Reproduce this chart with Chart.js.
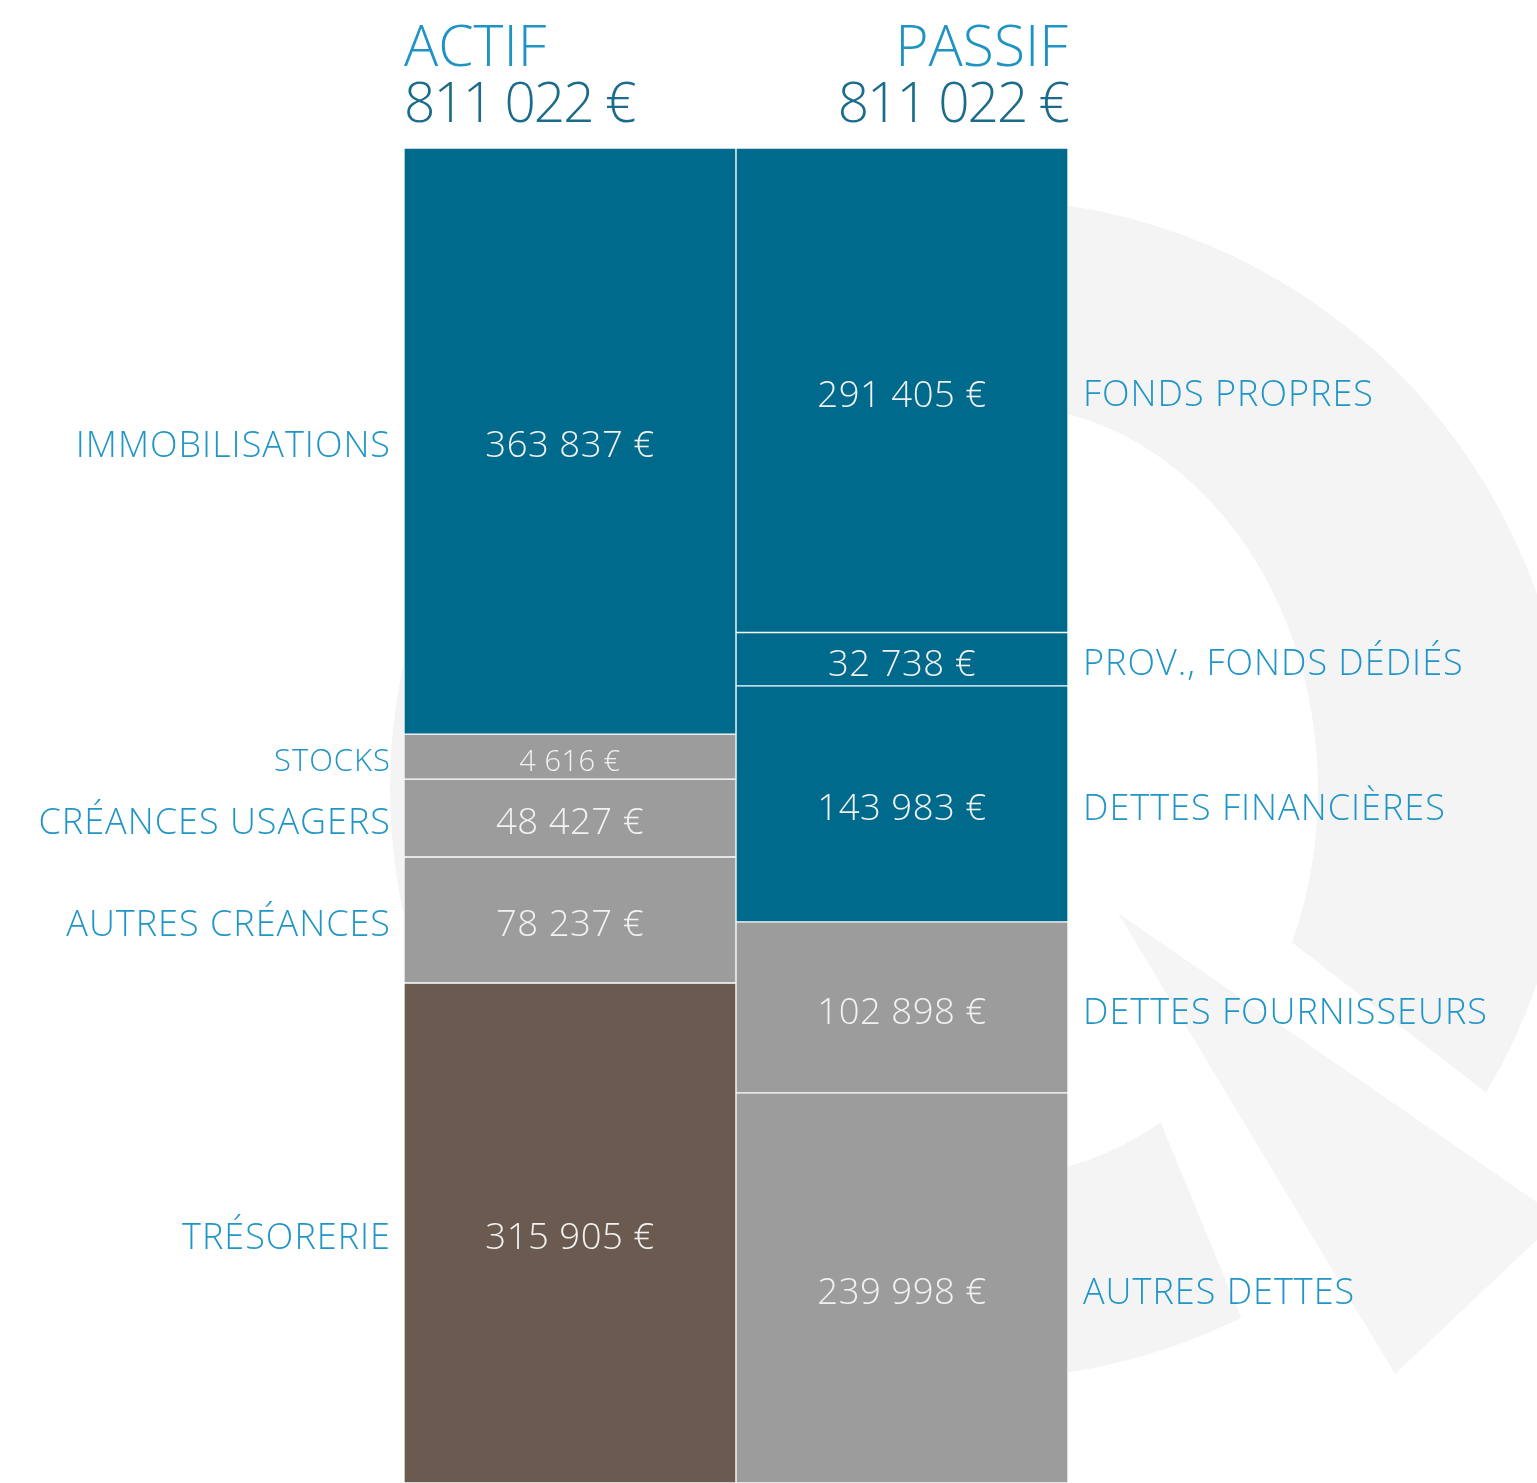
<!DOCTYPE html>
<html lang="fr">
<head>
<meta charset="utf-8">
<title>Bilan actif / passif</title>
<script src="https://cdn.jsdelivr.net/npm/chart.js@4.4.1/dist/chart.umd.min.js"></script>
<style>
  html, body { margin: 0; padding: 0; background: #fff; }
  #bilan { display: block; }
</style>
</head>
<body>
<canvas id="bilan" width="1537" height="1483"></canvas>
<script>
// colonnes
const colonnes = ["ACTIF", "PASSIF"];

// postes de l'actif (de haut en bas)
const actifPostes = ["IMMOBILISATIONS", "STOCKS", "CRÉANCES USAGERS", "AUTRES CRÉANCES", "TRÉSORERIE"];
const actifMontants = [363837, 4616, 48427, 78237, 315905];
// part de la colonne occupée par chaque bloc (%)
const actifParts = [43.9, 3.37, 5.84, 9.44, 37.45];
const actifCouleurs = ["#006a8c", "#9c9c9c", "#9c9c9c", "#9c9c9c", "#6a5a4f"];

// postes du passif (de haut en bas)
const passifPostes = ["FONDS PROPRES", "PROV., FONDS DÉDIÉS", "DETTES FINANCIÈRES", "DETTES FOURNISSEURS", "AUTRES DETTES"];
const passifMontants = [291405, 32738, 143983, 102898, 239998];
const passifParts = [36.29, 4.0, 17.68, 12.81, 29.22];
const passifCouleurs = ["#006a8c", "#006a8c", "#006a8c", "#9c9c9c", "#9c9c9c"];

const FONT = "'Open Sans', 'DejaVu Sans', sans-serif";
const bleuTexte = "#2196c6";

const euros = (n) => n.toString().replace(/\B(?=(\d{3})+(?!\d))/g, " ") + " €";
const total = (arr) => arr.reduce((a, b) => a + b, 0);

const datasets = actifPostes.map((p, i) => ({
  label: p + " / " + passifPostes[i],
  data: [actifParts[i], passifParts[i]],
  backgroundColor: [actifCouleurs[i], passifCouleurs[i]],
  borderColor: "#ffffff",
  borderWidth: 1,
  borderSkipped: false,
  barPercentage: 1,
  categoryPercentage: 1,
}));

// logo gris en fond
const fondLogo = {
  id: "fondLogo",
  beforeDraw(chart) {
    const ctx = chart.ctx;
    ctx.save();
    ctx.fillStyle = "#f4f4f4";
    ctx.beginPath();
    ctx.arc(980, 789, 590, 0, Math.PI * 2);
    ctx.ellipse(1000, 790, 318, 385, 0, 0, Math.PI * 2);
    ctx.fill("evenodd");
    // ouverture en bas à droite
    ctx.fillStyle = "#ffffff";
    ctx.beginPath();
    ctx.moveTo(1139, 824);
    ctx.lineTo(1657, 1225);
    ctx.lineTo(1700, 1600);
    ctx.lineTo(1345, 1569);
    ctx.lineTo(1120, 1024);
    ctx.closePath();
    ctx.fill();
    // queue
    ctx.fillStyle = "#f5f5f5";
    ctx.beginPath();
    ctx.moveTo(1118, 913);
    ctx.lineTo(1560, 1218);
    ctx.lineTo(1395, 1374);
    ctx.closePath();
    ctx.fill();
    ctx.restore();
  },
};

// titres, montants et libellés
const libelles = {
  id: "libelles",
  afterDatasetsDraw(chart) {
    const ctx = chart.ctx;
    const area = chart.chartArea;
    ctx.save();

    // titres des colonnes
    ctx.textBaseline = "alphabetic";
    ctx.font = "300 57px " + FONT;
    ctx.fillStyle = "#1f94c4";
    ctx.textAlign = "left";
    ctx.fillText(colonnes[0], area.left, 66);
    ctx.textAlign = "right";
    ctx.fillText(colonnes[1], area.right, 66);
    ctx.fillStyle = "#1b6c8a";
    ctx.font = "300 55px " + FONT;
    ctx.letterSpacing = "-2px";
    ctx.textAlign = "left";
    ctx.fillText(euros(total(actifMontants)), area.left, 122);
    ctx.textAlign = "right";
    ctx.fillText(euros(total(passifMontants)), area.right, 122);

    ctx.textBaseline = "middle";
    chart.data.datasets.forEach((ds, i) => {
      const meta = chart.getDatasetMeta(i);
      meta.data.forEach((bar, j) => {
        const { x, y, base, width } = bar.getProps(["x", "y", "base", "width"], true);
        const cy = (y + base) / 2 + 6;
        const h = Math.abs(base - y);
        const petit = h < 48;
        const montant = j === 0 ? actifMontants[i] : passifMontants[i];
        const poste = j === 0 ? actifPostes[i] : passifPostes[i];

        ctx.fillStyle = "#f2f2f2";
        ctx.textAlign = "center";
        ctx.letterSpacing = "0.5px";
        ctx.font = "300 " + (petit ? 29 : 36.5) + "px " + FONT;
        ctx.fillText(euros(montant), x, cy);

        ctx.fillStyle = bleuTexte;
        ctx.letterSpacing = "1px";
        ctx.font = "300 " + (petit ? 31 : 36) + "px " + FONT;
        if (j === 0) {
          ctx.textAlign = "right";
          ctx.fillText(poste, x - width / 2 - 13, cy);
        } else {
          ctx.textAlign = "left";
          ctx.fillText(poste, x + width / 2 + 15, cy);
        }
      });
    });
    ctx.restore();
  },
};

new Chart(document.getElementById("bilan"), {
  type: "bar",
  data: { labels: colonnes, datasets: datasets },
  options: {
    responsive: false,
    animation: false,
    layout: { padding: { left: 404, right: 469, top: 148, bottom: 0 } },
    scales: {
      x: { display: false, stacked: true },
      y: { display: false, stacked: true, reverse: true, min: 0, max: 100 },
    },
    plugins: {
      legend: { display: false },
      tooltip: { enabled: false },
    },
  },
  plugins: [fondLogo, libelles],
});
</script>
</body>
</html>
